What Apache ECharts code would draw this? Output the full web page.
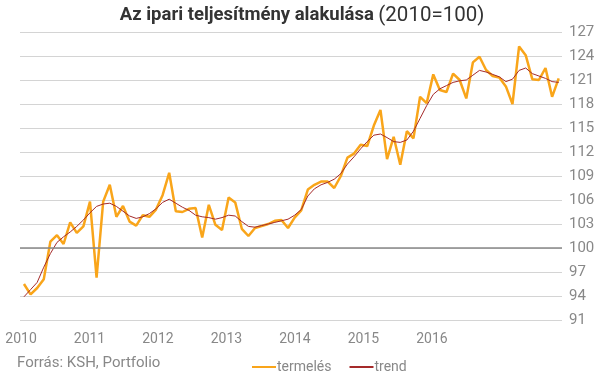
<!DOCTYPE html>
<html>
<head>
<meta charset="utf-8">
<script src="https://cdn.jsdelivr.net/npm/echarts@6/dist/echarts.min.js"></script>
<style>html,body{margin:0;padding:0;background:#fff}#c{width:604px;height:378px}</style>
</head>
<body>
<div id="c"></div>
<script>
// Monthly data, Jan 2010 – Oct 2016
var months = [];
for (var y = 2010; y <= 2016; y++) for (var m = 1; m <= 12; m++) months.push(y + '-' + (m < 10 ? '0' : '') + m);
months = months.slice(0, 82);

var termeles = [95.5, 94.2, 95.0, 96.1, 100.8, 101.6, 100.5, 103.2, 101.9, 102.7,
  105.8, 96.3, 105.8, 107.9, 103.9, 105.25, 103.3, 102.8, 104.1, 103.9,
  104.8, 106.6, 109.4, 104.6, 104.5, 104.9, 105.0, 101.3, 105.4, 102.9,
  102.25, 106.3, 105.7, 102.4, 101.5, 102.5, 102.75, 103.0, 103.4, 103.5,
  102.5, 103.8, 104.7, 107.3, 107.9, 108.3, 108.3, 107.5, 109.0, 111.3,
  111.8, 112.9, 112.75, 115.3, 117.25, 111.1, 113.9, 110.4, 114.6, 113.7,
  118.9, 118.1, 121.7, 119.75, 119.5, 121.8, 121.0, 118.7, 123.2, 123.9,
  122.25, 121.5, 121.3, 120.2, 118.0, 125.2, 124.1, 121.1, 121.0, 122.5,
  118.9, 121.2];

var trend = [93.9, 94.8, 95.7, 97.6, 99.3, 100.7, 101.4, 102.0, 102.7, 103.5,
  104.4, 105.2, 105.5, 105.6, 105.2, 104.6, 104.0, 103.7, 103.9, 104.3,
  104.9, 105.7, 106.1, 105.6, 105.1, 104.7, 104.1, 103.9, 103.8, 103.6,
  103.8, 104.1, 104.0, 103.3, 102.7, 102.6, 102.8, 103.0, 103.2, 103.4,
  103.6, 104.1, 104.8, 106.5, 107.4, 107.9, 108.2, 108.6, 109.3, 110.5,
  111.4, 112.4, 113.3, 114.1, 114.25, 113.8, 113.3, 113.2, 113.5, 114.6,
  116.2, 117.8, 119.2, 119.9, 120.3, 120.7, 120.9, 121.0, 121.6, 122.2,
  122.0, 121.7, 121.4, 120.8, 121.1, 122.2, 122.5, 121.8, 121.5, 121.2,
  120.8, 120.7];

var yearLabels = [2010, 2011, 2012, 2013, 2014, 2015, 2016];
var yTicks = [91, 94, 97, 100, 103, 106, 109, 112, 115, 118, 121, 124, 127];

var chart = echarts.init(document.getElementById('c'), null, {renderer: 'canvas'});
var font = 'Roboto, "Liberation Sans", sans-serif';
function pairs(arr) { return arr.map(function (v, i) { return [i, v]; }); }

chart.setOption({
  animation: false,
  backgroundColor: '#fff',
  textStyle: {fontFamily: font},
  title: [{
    text: '{b|Az ipari teljesítmény alakulása} {n|(2010=100)}',
    left: 'center', top: 0,
    textStyle: {
      rich: {
        b: {fontFamily: font, fontWeight: 'bold', fontSize: 18.5, color: '#333'},
        n: {fontFamily: font, fontWeight: 'normal', fontSize: 20.5, color: '#333'}
      }
    }
  }, {
    text: 'Forrás: KSH, Portfolio',
    left: 12, top: 351,
    textStyle: {fontFamily: font, fontWeight: 'normal', fontSize: 15, color: '#888'}
  }],
  legend: {
    left: 247, top: 355,
    itemWidth: 24, itemHeight: 2, itemGap: 18,
    icon: 'rect',
    textStyle: {fontFamily: font, fontSize: 14, color: '#888', padding: [0, 0, 0, -4]},
    data: ['termelés', 'trend']
  },
  grid: {left: 20, right: 42, top: 32, bottom: 58, containLabel: false},
  xAxis: [{
    type: 'value', min: -0.6, max: 81.5,
    axisLine: {show: false}, axisTick: {show: false},
    axisLabel: {show: false}, splitLine: {show: false}
  }, {
    type: 'value', position: 'bottom',
    min: 2009.985, max: 2017.9,
    axisLine: {show: false}, axisTick: {show: false}, splitLine: {show: false},
    axisLabel: {
      customValues: yearLabels,
      formatter: function (v) { return String(Math.round(v)); },
      color: '#888', fontSize: 14, fontFamily: font, margin: 12
    }
  }],
  yAxis: {
    type: 'value', position: 'right',
    min: yTicks[0], max: yTicks[yTicks.length - 1], interval: 3,
    axisLine: {show: false}, axisTick: {show: false},
    axisLabel: {color: '#888', fontSize: 15, fontFamily: font, margin: 7},
    splitLine: {lineStyle: {color: '#d4d4d4', width: 1}}
  },
  series: [{
    name: 'termelés', type: 'line', xAxisIndex: 0,
    data: pairs(termeles), showSymbol: false, symbol: 'none',
    lineStyle: {color: '#F9A51A', width: 2.5}, itemStyle: {color: '#F9A51A'},
    z: 2,
    markLine: {
      silent: true, symbol: 'none', label: {show: false},
      lineStyle: {color: '#888', width: 1.5, type: 'solid'},
      data: [{yAxis: 100}]
    }
  }, {
    name: 'trend', type: 'line', xAxisIndex: 0,
    data: pairs(trend), showSymbol: false, symbol: 'none',
    lineStyle: {color: '#A52A2A', width: 1}, itemStyle: {color: '#A52A2A'},
    z: 3
  }]
});
</script>
</body>
</html>
